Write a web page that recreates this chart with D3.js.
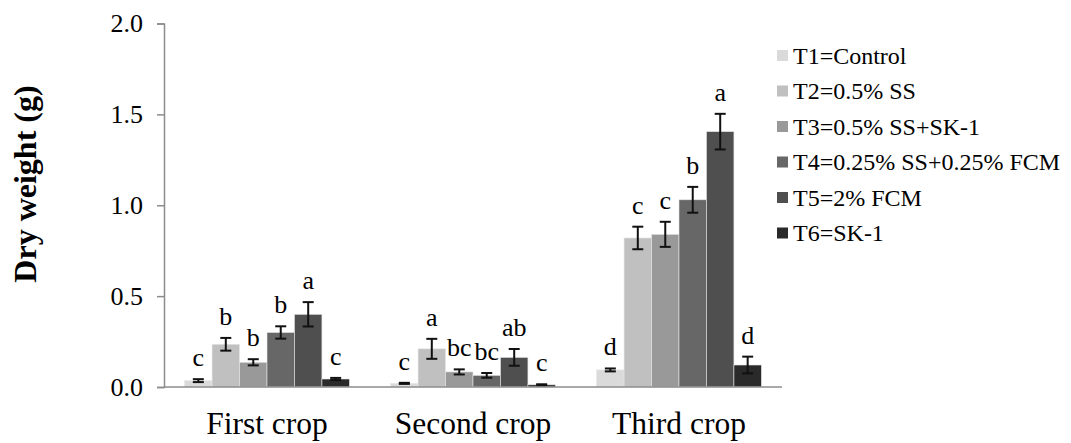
<!DOCTYPE html>
<html><head><meta charset="utf-8">
<script src="https://cdn.jsdelivr.net/npm/d3@7"></script>
<style>html,body{margin:0;padding:0;background:#fff;}svg{display:block;}svg text{font-family:"Liberation Serif","Times New Roman",Tinos,Times,"Nimbus Roman","DejaVu Serif",serif !important;}</style>
</head><body><svg id="c" width="1071" height="443"></svg>
<script>
const categories = ["First crop", "Second crop", "Third crop"];
const seriesNames = ["T1=Control", "T2=0.5% SS", "T3=0.5% SS+SK-1", "T4=0.25% SS+0.25% FCM", "T5=2% FCM", "T6=SK-1"];
const seriesColors = ["#dadada", "#c0c0c0", "#999999", "#676767", "#4f4f4f", "#2a2a2a"];
// values per series: [First, Second, Third]
const T1 = [0.035, 0.020, 0.094];
const T2 = [0.235, 0.210, 0.820];
const T3 = [0.136, 0.083, 0.840];
const T4 = [0.300, 0.064, 1.030];
const T5 = [0.400, 0.163, 1.405];
const T6 = [0.044, 0.012, 0.121];
const E1 = [0.008, 0.003, 0.008];
const E2 = [0.035, 0.055, 0.062];
const E3 = [0.017, 0.014, 0.069];
const E4 = [0.034, 0.013, 0.071];
const E5 = [0.067, 0.046, 0.098];
const E6 = [0.006, 0.003, 0.046];
const L1 = ["c", "c", "d"];
const L2 = ["b", "a", "c"];
const L3 = ["b", "bc", "c"];
const L4 = ["b", "bc", "b"];
const L5 = ["a", "ab", "a"];
const L6 = ["c", "c", "d"];
const yTicks = [0, 0.5, 1.0, 1.5, 2.0];

const values = [T1, T2, T3, T4, T5, T6];
const errors = [E1, E2, E3, E4, E5, E6];
const letters = [L1, L2, L3, L4, L5, L6];

const svg = d3.select("#c");
const x0 = d3.scaleBand().domain(categories).range([164, 782]).paddingInner(0.2).paddingOuter(0.1);
const x1 = d3.scaleBand().domain(d3.range(6)).range([0, x0.bandwidth()]);
const y = d3.scaleLinear().domain([0, 2]).range([387, 23.5]);

// axes
const yAxis = svg.append("g").attr("transform", "translate(164,0)")
  .call(d3.axisLeft(y).tickValues(yTicks).tickFormat(d3.format(".1f")).tickSize(7).tickPadding(14));
yAxis.select(".domain").attr("stroke", "#8c8c8c").attr("stroke-width", 1.5);
yAxis.selectAll(".tick line").attr("stroke", "#8c8c8c").attr("stroke-width", 1.5);
yAxis.selectAll(".tick text").attr("font-size", 26).attr("fill", "#000");

const data = [];
categories.forEach((c, ci) => values.forEach((s, si) => data.push({c, ci, si, v: s[ci], e: errors[si][ci], l: letters[si][ci]})));

const g = svg.append("g");
g.selectAll("rect.bar").data(data).enter().append("rect")
  .attr("x", d => x0(d.c) + x1(d.si))
  .attr("y", d => y(d.v))
  .attr("width", x1.bandwidth())
  .attr("height", d => y(0) - y(d.v))
  .attr("fill", d => seriesColors[d.si])
  .attr("stroke", "#e6e6e6").attr("stroke-width", 0.6);

const cx = d => x0(d.c) + x1(d.si) + x1.bandwidth() / 2;
const eb = g.selectAll("g.err").data(data).enter().append("g").attr("stroke", "#111").attr("stroke-width", 2);
eb.append("line").attr("x1", cx).attr("x2", cx).attr("y1", d => y(d.v + d.e)).attr("y2", d => y(d.v - d.e));
eb.append("line").attr("x1", d => cx(d) - 5.5).attr("x2", d => cx(d) + 5.5).attr("y1", d => y(d.v + d.e)).attr("y2", d => y(d.v + d.e));
eb.append("line").attr("x1", d => cx(d) - 5.5).attr("x2", d => cx(d) + 5.5).attr("y1", d => y(d.v - d.e)).attr("y2", d => y(d.v - d.e));

g.selectAll("text.lab").data(data).enter().append("text")
  .attr("x", cx).attr("y", d => y(d.v + d.e) - 13)
  .attr("text-anchor", "middle").attr("font-size", 26).attr("fill", "#000")
  .text(d => d.l);

// x axis line
svg.append("line").attr("x1", 164).attr("x2", 782).attr("y1", y(0)).attr("y2", y(0))
  .attr("stroke", "#8c8c8c").attr("stroke-width", 1.5);

// x labels
svg.selectAll("text.xl").data(categories).enter().append("text")
  .attr("x", d => x0(d) + x0.bandwidth() / 2).attr("y", 434)
  .attr("text-anchor", "middle").attr("font-size", 31.5).attr("fill", "#000").text(d => d);

// y title
svg.append("text").attr("transform", "translate(36,184) rotate(-90)")
  .attr("text-anchor", "middle").attr("font-size", 32).attr("font-weight", "bold").text("Dry weight (g)");

// legend
const leg = svg.append("g").selectAll("g").data(seriesNames).enter().append("g")
  .attr("transform", (d, i) => `translate(777,${55.5 + i * 35.5})`);
leg.append("rect").attr("x", 0).attr("y", -5.5).attr("width", 11).attr("height", 11).attr("fill", (d, i) => seriesColors[i]);
leg.append("text").attr("x", 16).attr("y", 0).attr("dy", "0.35em").attr("font-size", 24).attr("fill", "#000").text(d => d);
</script></body></html>
